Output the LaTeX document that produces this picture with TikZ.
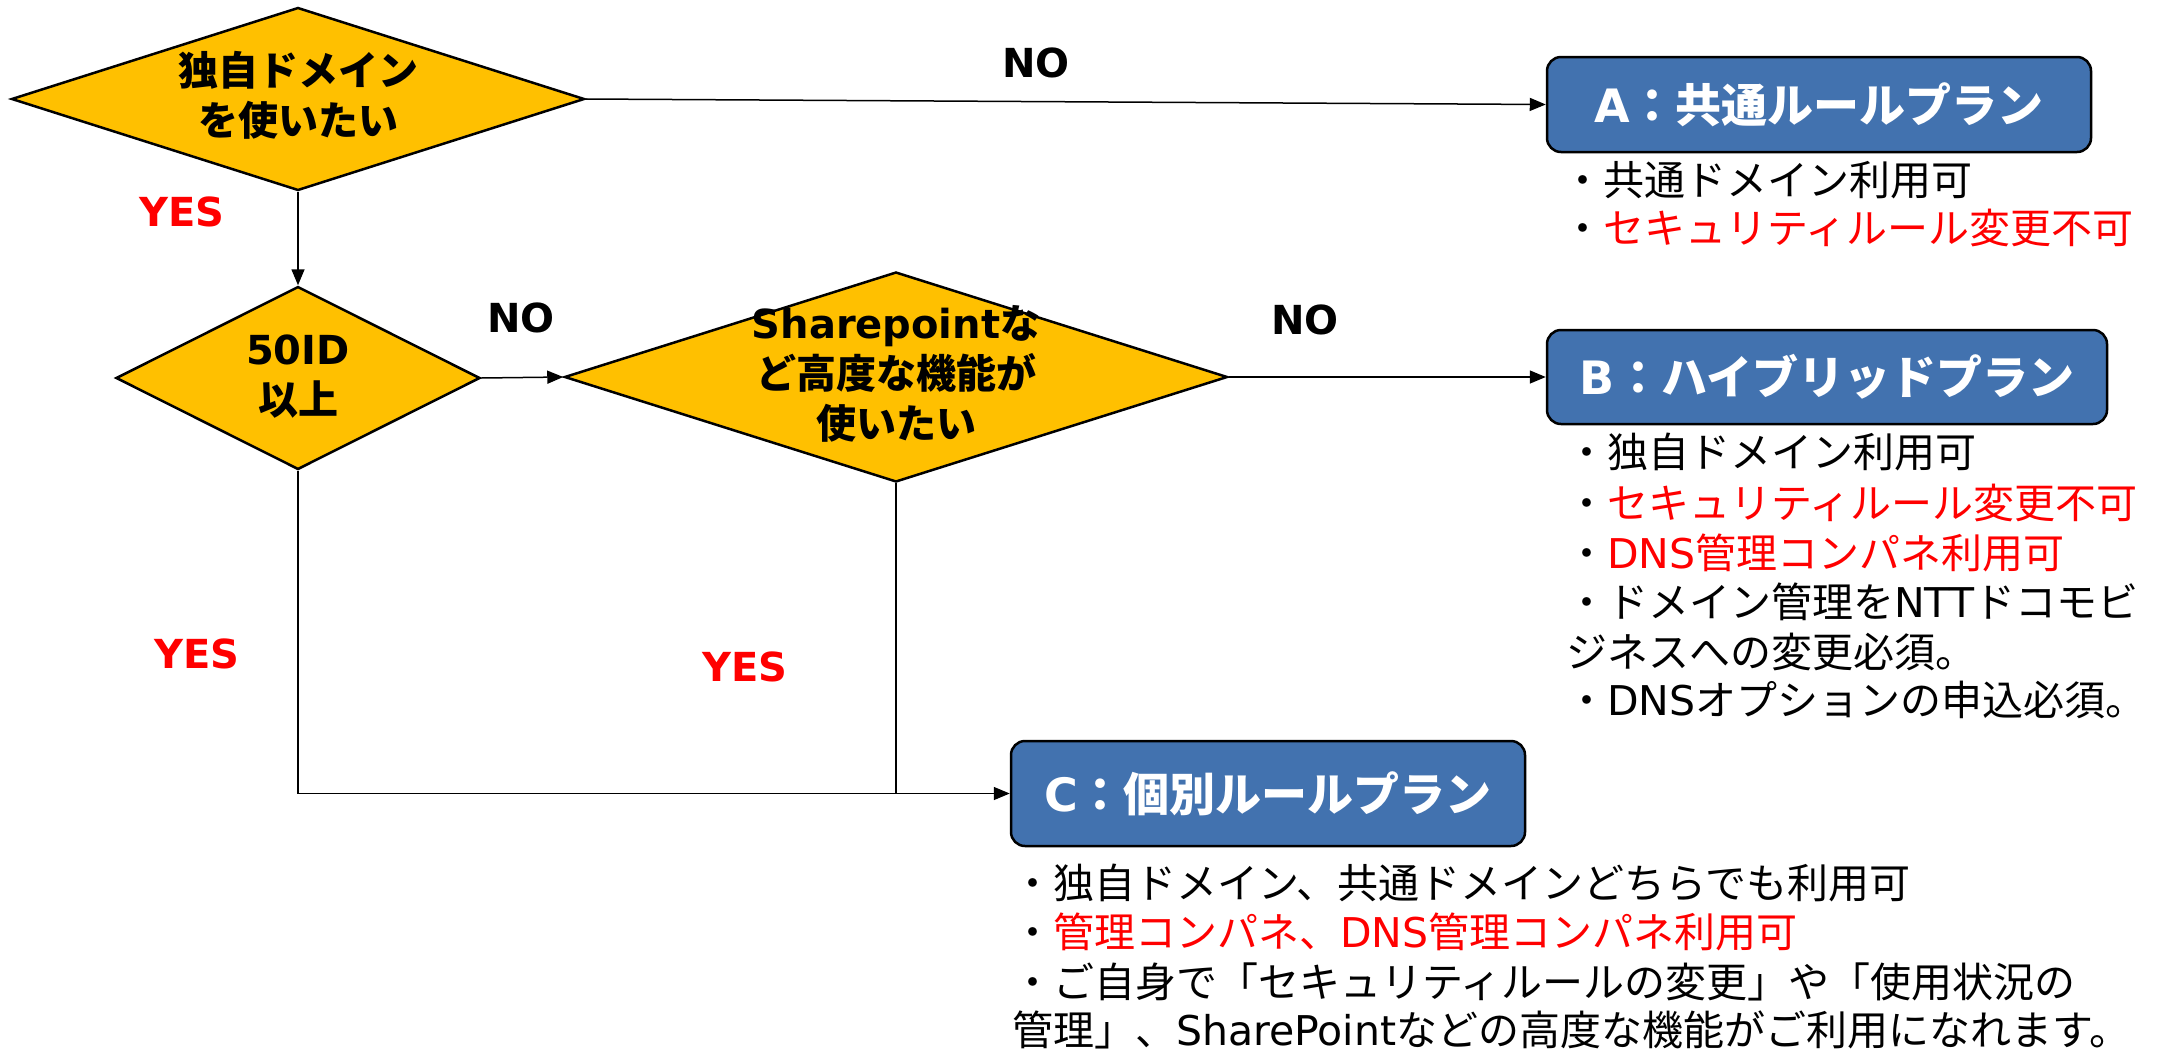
\documentclass[tikz,border=0pt]{standalone}
\usepackage{fontspec}
\setmainfont{Noto Sans CJK JP}
\newfontfamily\dv{DejaVu Sans}
\usetikzlibrary{shapes.geometric,arrows.meta}
\definecolor{gold}{RGB}{255,192,0}
\definecolor{planblue}{RGB}{66,114,175}
\definecolor{myred}{RGB}{255,0,0}
\newcommand{\lat}[1]{{\dv #1}}
\newcommand{\rd}[1]{\textcolor{myred}{#1}}
\begin{document}
\begin{tikzpicture}[x=1pt,y=-1pt,
  dia/.style={diamond, draw=black, line width=2.5pt, fill=gold, inner sep=0pt},
  plan/.style={rectangle, rounded corners=14pt, draw=black, line width=2.5pt, fill=planblue, text=white, font=\fontsize{46}{52}\selectfont\bfseries, inner sep=0pt},
  conn/.style={line width=1.5pt, draw=black},
  arr/.style={conn, -{Triangle[length=16pt,width=13pt]}},
  qtext/.style={font=\fontsize{40}{50}\selectfont\bfseries, align=center, inner sep=0pt},
  yes/.style={font=\fontsize{40}{48}\selectfont\bfseries\dv, text=myred, inner sep=0pt},
  no/.style={font=\fontsize{40}{48}\selectfont\bfseries\dv, text=black, inner sep=0pt},
  item/.style={font=\fontsize{41}{48}\selectfont, anchor=base west, inner sep=0pt},
]
\fill[white] (0,0) rectangle (2160,1053);
\useasboundingbox (0,0) rectangle (2160,1053);

% decisions
\node[dia, minimum width=573pt, minimum height=183pt] (d1) at (298,99) {};
\node[qtext] (t1) at (298,95) {独自ドメイン\\を使いたい};
\node[dia, minimum width=364pt, minimum height=183pt] (d2) at (298,378) {};
\node[qtext] (t2) at (298,377) {\lat{50ID}\\以上};
\node[dia, minimum width=663pt, minimum height=210pt] (d3) at (896,377) {};
\node[qtext] (t3) at (896,374) {\lat{Sharepoint}な\\ど高度な機能が\\使いたい};

% plans
\node[plan, minimum width=544pt, minimum height=95pt] (A) at (1819,104.5) {\lat{A}：共通ルールプラン};
\node[plan, minimum width=560pt, minimum height=94pt] (B) at (1827,377) {\lat{B}：ハイブリッドプラン};
\node[plan, minimum width=514pt, minimum height=105pt] (C) at (1268,793.5) {\lat{C}：個別ルールプラン};

% connectors
\draw[arr] (d1.east) -- (A.west);
\draw[arr] (d1.south) -- (d2.north);
\draw[arr] (d2.east) -- (d3.west);
\draw[arr] (d3.east) -- (B.west);
\draw[arr] (d2.south) |- (C.west);
\coordinate (j) at (d3.south |- C.west);
\draw[conn] (d3.south) -- (j);

% labels
\node[no] (n1) at (1036,63) {NO};
\node[yes] (y1) at (182,212) {YES};
\node[no] (n2) at (521,318) {NO};
\node[no] (n3) at (1305,320) {NO};
\node[yes] (y2) at (197,654) {YES};
\node[yes] (y3) at (745,667) {YES};

% plan A notes
\node[item] (a1) at (1562,195) {・共通ドメイン利用可};
\node[item] (a2) at (1562,243) {・\rd{セキュリティルール変更不可}};

% plan B notes
\node[item] (b1) at (1566,467) {・独自ドメイン利用可};
\node[item] (b2) at (1566,518) {・\rd{セキュリティルール変更不可}};
\node[item] (b3) at (1566,568) {・\rd{\lat{DNS}管理コンパネ利用可}};
\node[item] (b4) at (1566,617) {・ドメイン管理を\lat{NTT}ドコモビ};
\node[item] (b5) at (1566,667) {ジネスへの変更必須。};
\node[item] (b6) at (1566,715) {・\lat{DNS}オプションの申込必須。};

% plan C notes
\node[item] (c1) at (1012,898) {・独自ドメイン、共通ドメインどちらでも利用可};
\node[item] (c2) at (1012,947) {・\rd{管理コンパネ、\lat{DNS}管理コンパネ利用可}};
\node[item] (c3) at (1012,997) {・ご自身で「セキュリティルールの変更」や「使用状況の};
\node[item] (c4) at (1012,1045) {管理」、\lat{SharePoint}などの高度な機能がご利用になれます。};
\end{tikzpicture}
\end{document}
